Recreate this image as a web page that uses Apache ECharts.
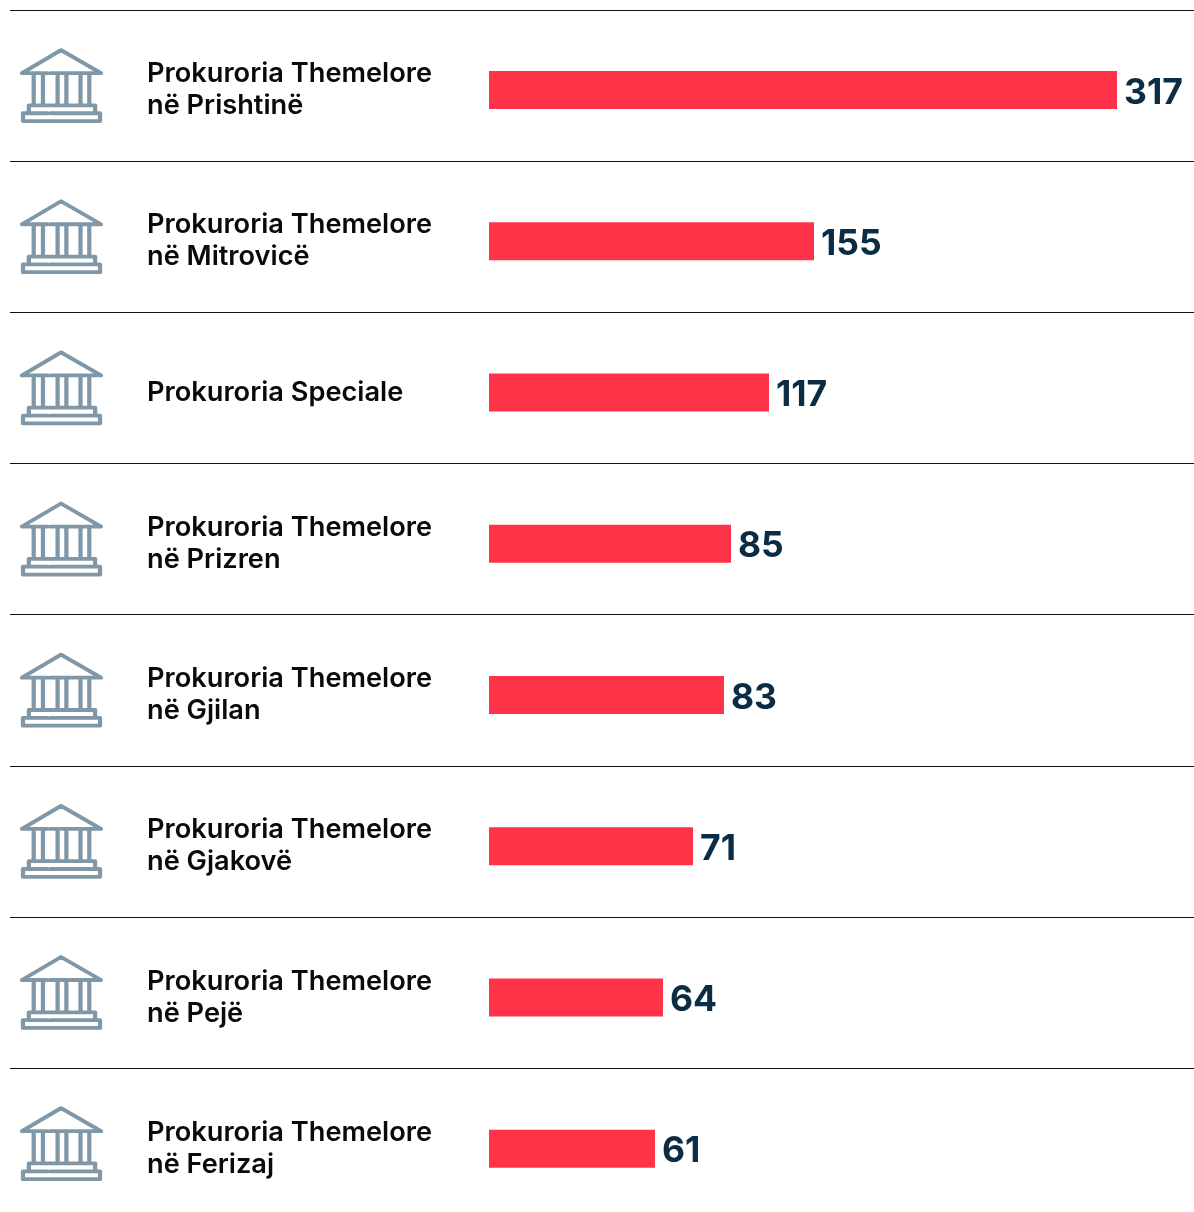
<!DOCTYPE html>
<html>
<head>
<meta charset="utf-8">
<style>
  html, body { margin: 0; padding: 0; background: #fff; }
  #wrap { width: 1194px; height: 1212px; overflow: hidden; }
  /* taller than the window: the last row's band runs past the bottom edge */
  #chart { width: 1194px; height: 1240px; }
</style>
</head>
<body>
<div id="wrap"><div id="chart"></div></div>
<script src="https://cdn.jsdelivr.net/npm/echarts@6/dist/echarts.min.js"></script>
<script>
const categories = [
  "Prokuroria Themelore\nnë Prishtinë",
  "Prokuroria Themelore\nnë Mitrovicë",
  "Prokuroria Speciale",
  "Prokuroria Themelore\nnë Prizren",
  "Prokuroria Themelore\nnë Gjilan",
  "Prokuroria Themelore\nnë Gjakovë",
  "Prokuroria Themelore\nnë Pejë",
  "Prokuroria Themelore\nnë Ferizaj",
];
// printed numbers
const values = [317, 155, 117, 85, 83, 71, 64, 61];
// the bars in the picture are not to scale with the numbers, so lengths are read off separately
const barLengths = [628, 325, 280, 242, 235, 204, 174, 166];

// bank/court icon, outline only
const iconPath =
  "path://M21 73 L47 73 M50 73 L102 73 L61 49.5 L21 73 " +
  "M33 73 L33 105 M42.5 73 L42.5 105 M57.5 73 L57.5 105 M66.5 73 L66.5 105 M81 73 L81 105 M90 73 L90 105 " +
  "M28 114 L28 106 L73 106 M75 106 L96 106 L96 114 " +
  "M47 114 L22 114 L22 122 L101 122 L101 114 L50 114";

const chart = echarts.init(document.getElementById("chart"));

chart.setOption({
  animation: false,
  backgroundColor: "#ffffff",
  textStyle: { fontFamily: "Inter" },
  grid: [
    // bars and labels
    { left: 489, right: 0, top: 14.4, height: 1210 },
    // separators and icons
    { left: 10, right: 0, top: 10, height: 1209.2 },
  ],
  xAxis: [
    { type: "value", gridIndex: 0, min: 0, max: 705, show: false },
    { type: "value", gridIndex: 1, min: 0, max: 1184, show: false },
  ],
  yAxis: [
    {
      type: "category",
      gridIndex: 0,
      inverse: true,
      data: categories,
      axisLine: { show: false },
      axisTick: { show: false },
      splitLine: { show: false },
      axisLabel: {
        margin: 342,
        align: "left",
        color: "#0a0a0a",
        fontFamily: "Inter",
        fontWeight: 600,
        fontSize: 27.2,
        lineHeight: 32,
      },
    },
    {
      type: "category",
      gridIndex: 1,
      inverse: true,
      data: categories,
      axisLine: { show: false },
      axisTick: { show: false },
      axisLabel: { show: false },
      splitLine: { show: true, lineStyle: { color: "#111111", width: 1 } },
    },
  ],
  series: [
    {
      type: "bar",
      xAxisIndex: 0,
      yAxisIndex: 0,
      data: barLengths,
      barWidth: 38,
      itemStyle: { color: "#ff3347" },
      label: {
        show: true,
        position: "right",
        distance: 8,
        offset: [-1, 3],
        color: "#0b2c45",
        fontFamily: "Inter",
        fontWeight: 700,
        fontSize: 35.5,
        formatter: (p) => values[p.dataIndex],
      },
    },
    {
      type: "scatter",
      xAxisIndex: 1,
      yAxisIndex: 1,
      data: categories.map((c) => [51.5, c]),
      symbol: iconPath,
      symbolSize: [79, 71],
      itemStyle: {
        color: "none",
        borderColor: "#7f97a6",
        borderWidth: 4,
        borderCap: "round",
        borderJoin: "round",
        opacity: 1,
      },
      silent: true,
    },
  ],
});
</script>
</body>
</html>
